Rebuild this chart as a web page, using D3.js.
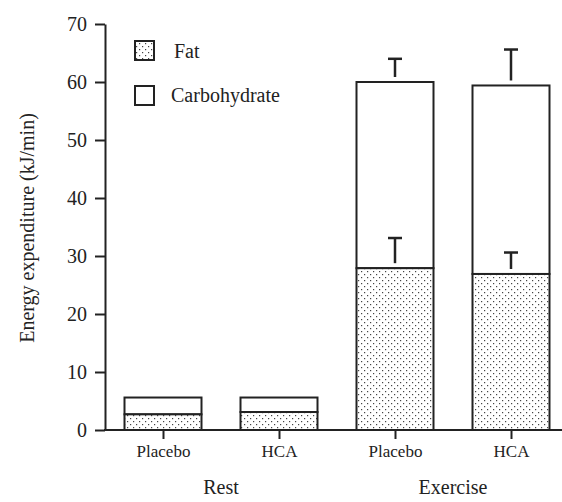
<!DOCTYPE html>
<html><head><meta charset="utf-8">
<script src="https://cdn.jsdelivr.net/npm/d3@7"></script>
<style>body{margin:0;background:#fff;} svg{display:block;}</style>
</head><body><svg id="c" width="562" height="502"></svg>
<script>
const categories = ["Placebo","HCA","Placebo","HCA"];
const groups = ["Rest","Rest","Exercise","Exercise"];
const groupLabels = ["Rest","Exercise"];
const fatValues = [2.7, 3.1, 27.9, 26.9];
const carbValues = [2.9, 2.5, 32.1, 32.5];
const fatErr = [0, 0, 5.2, 3.7];
const totalErr = [0, 0, 4.0, 6.2];
const yTicks = [0,10,20,30,40,50,60,70];
const seriesNames = ["Fat","Carbohydrate"];

const FONT = '"Liberation Serif","Times New Roman",serif';
const svg = d3.select("#c");
const ink = "#222";
const defs = svg.append("defs");
const pat = defs.append("pattern").attr("id","dots").attr("patternUnits","userSpaceOnUse").attr("width",6).attr("height",6);
pat.append("rect").attr("width",6).attr("height",6).attr("fill","#fff");
pat.append("rect").attr("x",1).attr("y",1).attr("width",1.2).attr("height",1.2).attr("fill","#444");
pat.append("rect").attr("x",4).attr("y",4).attr("width",1.2).attr("height",1.2).attr("fill","#444");

const y = d3.scaleLinear().domain([0,70]).range([430,24]);
const x = d3.scalePoint().domain(d3.range(categories.length)).range([105,569]).padding(0.5);
const bw = 77;

const idx = d3.range(categories.length);
svg.selectAll("rect.carb").data(idx).join("rect")
  .attr("x", i => x(i)-bw/2).attr("width", bw)
  .attr("y", i => y(fatValues[i]+carbValues[i]))
  .attr("height", i => y(fatValues[i]) - y(fatValues[i]+carbValues[i]))
  .attr("fill","#fff").attr("stroke",ink).attr("stroke-width",2);
svg.selectAll("rect.fat").data(idx).join("rect")
  .attr("x", i => x(i)-bw/2).attr("width", bw)
  .attr("y", i => y(fatValues[i]))
  .attr("height", i => y(0) - y(fatValues[i]))
  .attr("fill","url(#dots)").attr("stroke",ink).attr("stroke-width",2);

function errBar(i, base, err){
  if(!err) return;
  const g = svg.append("g").attr("stroke",ink);
  g.append("line").attr("x1",x(i)).attr("x2",x(i)).attr("y1",y(base)-5).attr("y2",y(base+err)).attr("stroke-width",2.5);
  g.append("line").attr("x1",x(i)-7).attr("x2",x(i)+7).attr("y1",y(base+err)).attr("y2",y(base+err)).attr("stroke-width",2.5);
}
idx.forEach(i => {
  errBar(i, fatValues[i], fatErr[i]);
  errBar(i, fatValues[i]+carbValues[i], totalErr[i]);
});

const ya = svg.append("g").attr("transform","translate(105,0)")
  .call(d3.axisLeft(y).tickValues(yTicks).tickSize(10).tickSizeOuter(0).tickPadding(8));
ya.select(".domain").attr("stroke",ink).attr("stroke-width",2);
ya.selectAll(".tick line").attr("stroke",ink).attr("stroke-width",2);
ya.selectAll(".tick text").attr("font-size",20).attr("fill","#222").style("font-family",FONT);

const xa = svg.append("g").attr("transform","translate(0,430)")
  .call(d3.axisBottom(x).tickSize(9).tickSizeOuter(0).tickPadding(6).tickFormat(i => categories[i]));
xa.select(".domain").remove();
xa.append("line").attr("x1",104).attr("x2",562).attr("y1",0).attr("y2",0).attr("stroke",ink).attr("stroke-width",2);
xa.selectAll(".tick line").attr("stroke",ink).attr("stroke-width",2);
xa.selectAll(".tick text").attr("font-size",17).attr("fill","#222").style("font-family",FONT);

groupLabels.forEach(gname => {
  const ii = idx.filter(i => groups[i]===gname);
  const cx = d3.mean(ii, i => x(i));
  svg.append("text").attr("x",cx).attr("y",494).attr("text-anchor","middle").attr("font-size",20)
    .attr("fill","#222").style("font-family",FONT).text(gname);
});

svg.append("text").attr("transform","translate(34,228) rotate(-90)").attr("text-anchor","middle")
  .attr("font-size",20).attr("fill","#222").style("font-family",FONT).text("Energy expenditure (kJ/min)");

seriesNames.forEach((s,k) => {
  const ly = 41 + k*45;
  svg.append("rect").attr("x",135).attr("y",ly).attr("width",19).attr("height",19)
    .attr("fill", k===0 ? "url(#dots)" : "#fff").attr("stroke",ink).attr("stroke-width",2);
  svg.append("text").attr("x", k===0 ? 174 : 171).attr("y",ly+(k===0?17:16)).attr("font-size",20)
    .attr("fill","#222").style("font-family",FONT).text(s);
});
</script></body></html>
